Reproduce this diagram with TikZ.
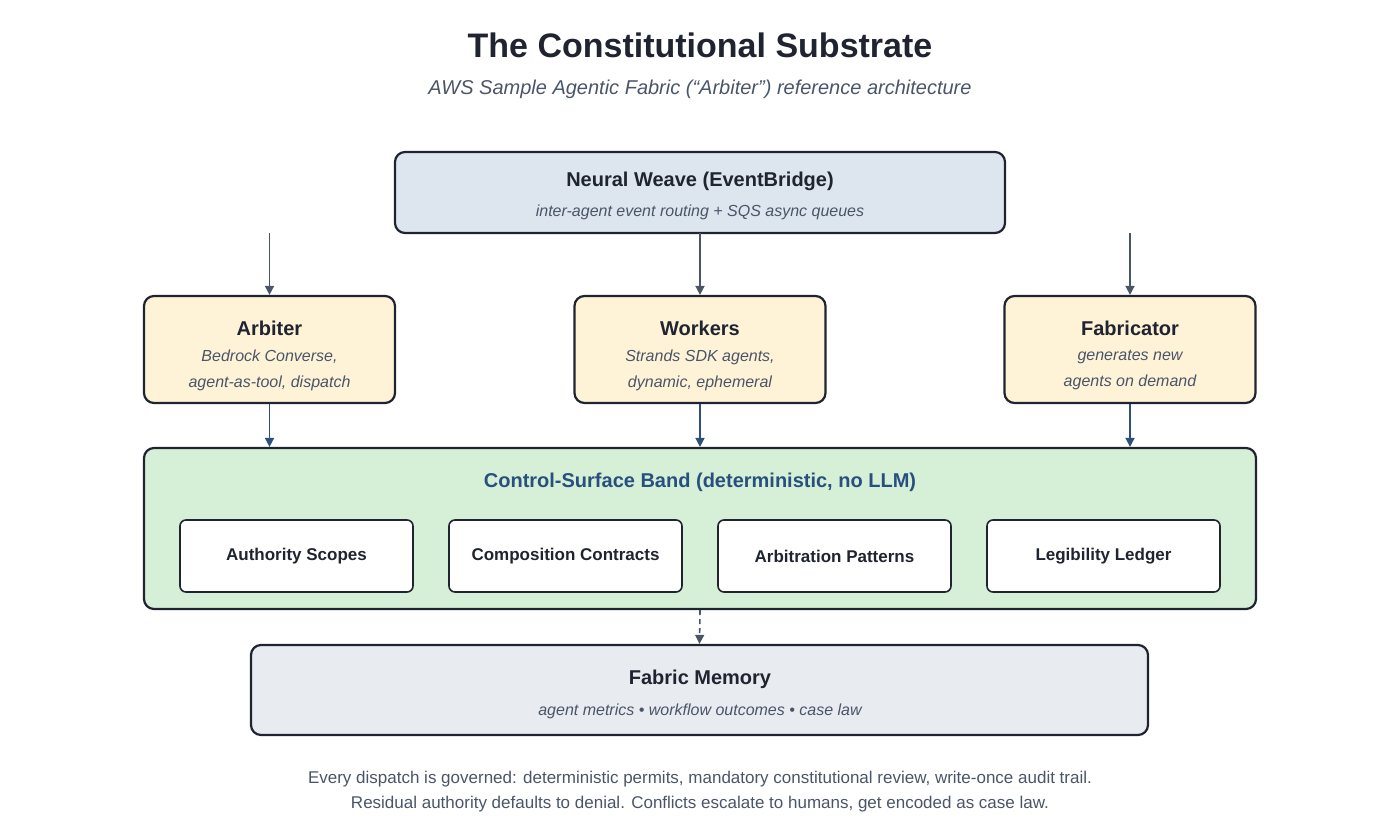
\documentclass[tikz,border=0pt]{standalone}
\usepackage{fontspec}
\setmainfont{Liberation Sans}
\usetikzlibrary{arrows.meta}
\definecolor{ink}{HTML}{1F2430}
\definecolor{sub}{HTML}{4A5568}
\definecolor{weave}{HTML}{DDE6EF}
\definecolor{agent}{HTML}{FEF3D7}
\definecolor{band}{HTML}{D6F0D7}
\definecolor{mem}{HTML}{E8EBF0}
\definecolor{bluearr}{HTML}{2C4F7C}
\definecolor{bandtitle}{HTML}{28507E}
\begin{document}
\begin{tikzpicture}[x=1pt,y=-1pt,
 box/.style={draw=ink,line width=2.2pt,rounded corners=10pt},
 inner/.style={draw=ink,line width=1.6pt,rounded corners=6pt,fill=white,font=\fontsize{17}{20}\selectfont\bfseries,text=ink},
 ttl/.style={font=\fontsize{20}{24}\selectfont\bfseries,text=ink},
 desc/.style={font=\fontsize{16}{26}\selectfont\itshape,text=sub,align=center},
 garr/.style={draw=sub,line width=1.6pt,-{Triangle[length=9pt,width=9pt]}},
 barr/.style={draw=bluearr,line width=1.6pt,-{Triangle[length=9pt,width=9pt]}}]
\useasboundingbox (0,0) rectangle (1400,825);
\node[font=\fontsize{34}{40}\selectfont\bfseries,text=ink] (title) at (700,45) {The Constitutional Substrate};
\node[font=\fontsize{20}{24}\selectfont\itshape,text=sub] (subtitle) at (700,89) {AWS Sample Agentic Fabric (“Arbiter”) reference architecture};
% Neural weave
\draw[box,fill=weave] (395,152) rectangle (1005,233);
\node[ttl] (nw) at (700,181) {Neural Weave (EventBridge)};
\node[desc] (nwd) at (700,212) {inter-agent event routing + SQS async queues};
\coordinate (nwb) at (700,233);
% agents
\foreach \n/\x/\t/\a/\b in {arb/269.5/Arbiter/{Bedrock Converse,}/{agent-as-tool, dispatch},wrk/700/Workers/{Strands SDK agents,}/{dynamic, ephemeral},fab/1130/Fabricator/{generates new}/{agents on demand}}{
 \node[box,fill=agent,minimum width=251pt,minimum height=107pt] (\n) at (\x,349.5) {};
 \node[ttl] at (\x,328) {\t};
 \node[desc] at (\x,370) {\a\\\b};
}
\coordinate (la) at (269.5,233);
\coordinate (ra) at (1130,233);
\draw[garr] (la) -- (arb.north);
\draw[garr] (nwb) -- (wrk.north);
\draw[garr] (ra) -- (fab.north);
% band
\node[box,fill=band,minimum width=1112pt,minimum height=161pt] (band) at (700,528.5) {};
\node[font=\fontsize{20}{24}\selectfont\bfseries,text=bandtitle] at (700,482) {Control-Surface Band (deterministic, no LLM)};
\foreach \n/\x/\t in {i1/296.5/Authority Scopes,i2/565.5/Composition Contracts,i3/834.5/Arbitration Patterns,i4/1103.5/Legibility Ledger}{
 \node[inner,minimum width=233pt,minimum height=72pt] (\n) at (\x,556) {\t};
}
\draw[barr] (arb.south) -- (arb.south |- band.north);
\draw[barr] (wrk.south) -- (wrk.south |- band.north);
\draw[barr] (fab.south) -- (fab.south |- band.north);
% memory
\node[box,fill=mem,minimum width=897pt,minimum height=90pt] (mem) at (699.5,690) {};
\node[ttl] at (700,679) {Fabric Memory};
\node[desc] at (700,711) {agent metrics • workflow outcomes • case law};
\draw[garr,dashed,dash pattern=on 5pt off 4pt] (band.south) -- (mem.north);
\node[font=\fontsize{17}{25}\selectfont,text=sub,align=center] (foot) at (700,792) {Every dispatch is governed: deterministic permits, mandatory constitutional review, write-once audit trail.\\Residual authority defaults to denial. Conflicts escalate to humans, get encoded as case law.};
\end{tikzpicture}
\end{document}
